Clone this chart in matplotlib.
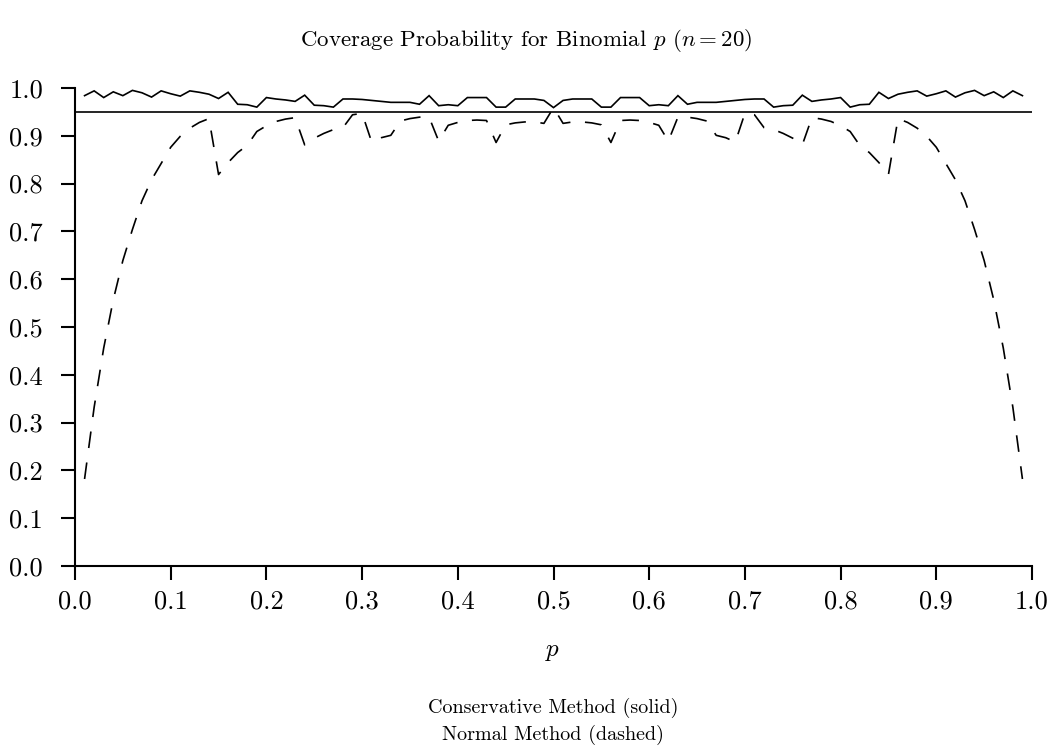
import numpy as np
import matplotlib
matplotlib.use("Agg")
import matplotlib.pyplot as plt

plt.rcParams['font.family'] = 'serif'
plt.rcParams['font.serif'] = ['cmr10']
plt.rcParams['mathtext.fontset'] = 'cm'
plt.rcParams['axes.formatter.use_mathtext'] = True
plt.rcParams['lines.scale_dashes'] = False

# p grid values
p_values = [round(0.01 * i, 2) for i in range(1, 100)]

# Conservative method coverage, p = 0.01 .. 0.99
conservative = [
    0.984, 0.994, 0.980, 0.992, 0.984, 0.995, 0.990, 0.981, 0.994, 0.988,
    0.983, 0.994, 0.991, 0.987, 0.978, 0.991, 0.966, 0.965, 0.960, 0.980,
    0.977, 0.975, 0.972, 0.985, 0.964, 0.963, 0.960, 0.977, 0.977, 0.976,
    0.974, 0.972, 0.970, 0.970, 0.970, 0.966, 0.984, 0.963, 0.965, 0.963,
    0.980, 0.980, 0.980, 0.960, 0.960, 0.977, 0.977, 0.977, 0.974, 0.959,
    0.974, 0.977, 0.977, 0.977, 0.960, 0.960, 0.980, 0.980, 0.980, 0.963,
    0.965, 0.963, 0.984, 0.966, 0.970, 0.970, 0.970, 0.972, 0.974, 0.976,
    0.977, 0.977, 0.960, 0.963, 0.964, 0.985, 0.972, 0.975, 0.977, 0.980,
    0.960, 0.965, 0.966, 0.991, 0.978, 0.987, 0.991, 0.994, 0.983, 0.988,
    0.994, 0.981, 0.990, 0.995, 0.984, 0.992, 0.980, 0.994, 0.984,
]

# Normal method coverage, p = 0.01 .. 0.99
normal = [
    0.182, 0.332, 0.456, 0.557, 0.639, 0.704, 0.764, 0.808, 0.842, 0.876,
    0.899, 0.916, 0.928, 0.936, 0.819, 0.844, 0.865, 0.880, 0.909, 0.921,
    0.930, 0.935, 0.938, 0.881, 0.895, 0.905, 0.913, 0.917, 0.944, 0.947,
    0.887, 0.896, 0.901, 0.931, 0.936, 0.939, 0.939, 0.889, 0.922, 0.928,
    0.932, 0.933, 0.932, 0.886, 0.923, 0.927, 0.929, 0.929, 0.926, 0.959,
    0.926, 0.929, 0.929, 0.927, 0.923, 0.886, 0.932, 0.933, 0.932, 0.928,
    0.922, 0.889, 0.939, 0.939, 0.936, 0.931, 0.901, 0.896, 0.887, 0.947,
    0.944, 0.917, 0.913, 0.905, 0.895, 0.881, 0.938, 0.935, 0.930, 0.921,
    0.909, 0.880, 0.865, 0.844, 0.819, 0.936, 0.928, 0.916, 0.899, 0.876,
    0.842, 0.808, 0.764, 0.704, 0.639, 0.557, 0.456, 0.332, 0.182,
]

nominal = 0.95
x_ticks = [0.0, 0.1, 0.2, 0.3, 0.4, 0.5, 0.6, 0.7, 0.8, 0.9, 1.0]
y_ticks = [0.0, 0.1, 0.2, 0.3, 0.4, 0.5, 0.6, 0.7, 0.8, 0.9, 1.0]

fig = plt.figure(figsize=(10.53, 7.55), dpi=100)
ax = fig.add_axes([75 / 1053, 1 - 566 / 755, (1032 - 75) / 1053, (566 - 88) / 755])

ax.plot(p_values, conservative, color='black', lw=1.2, solid_joinstyle='miter')
ax.plot(p_values, normal, color='black', lw=1.2, linestyle=(0, (12, 10.5)))
ax.axhline(nominal, color='black', lw=1.2)

ax.set_xlim(0, 1)
ax.set_ylim(0, 1)
ax.set_xticks(x_ticks)
ax.set_yticks(y_ticks)
ax.set_xticklabels([f"{t:.1f}" for t in x_ticks])
ax.set_yticklabels([f"{t:.1f}" for t in y_ticks])
for s in ['top', 'right']:
    ax.spines[s].set_visible(False)
for s in ['left', 'bottom']:
    ax.spines[s].set_linewidth(1.5)
ax.tick_params(direction='out', length=10, width=1.5, labelsize=19)
ax.tick_params(axis='x', pad=7)
ax.tick_params(axis='y', pad=13)

fig.text(0.5, 1 - 40 / 755, r"Coverage Probability for Binomial $p$ ($n=20$)",
         ha='center', va='center', fontsize=16.5)
fig.text(553 / 1053, 1 - 652 / 755, r"$p$", ha='center', va='center', fontsize=18)
fig.text(553 / 1053, 1 - 708 / 755, "Conservative Method (solid)",
         ha='center', va='center', fontsize=14.5)
fig.text(553 / 1053, 1 - 735 / 755, "Normal Method (dashed)",
         ha='center', va='center', fontsize=14.5)

fig.savefig("out.png", dpi=100)
